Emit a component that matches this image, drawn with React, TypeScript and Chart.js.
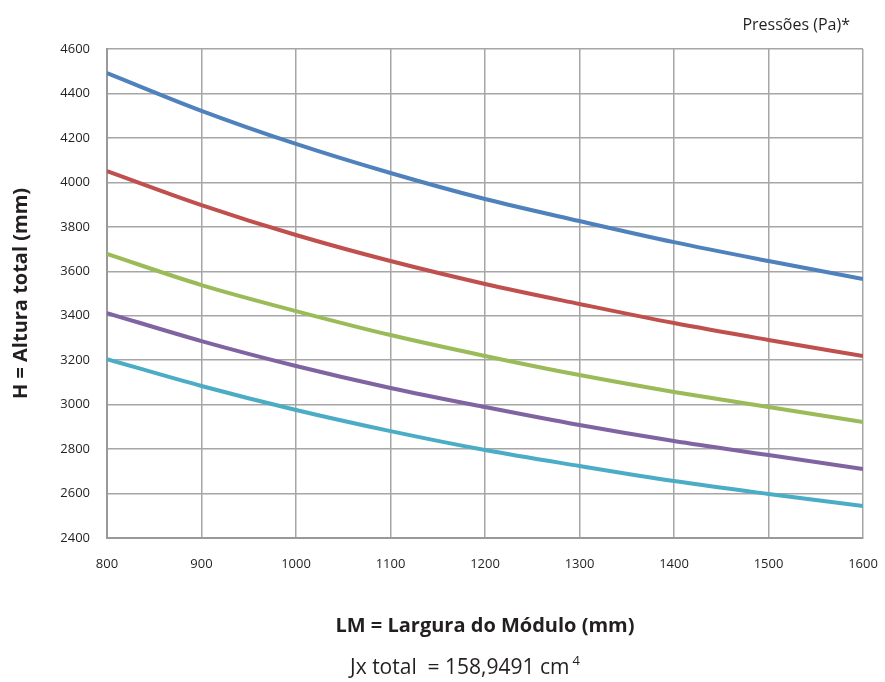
import React, { useEffect, useRef } from "react";
import { Chart, registerables } from "chart.js";

Chart.register(...registerables);

const widths = [800, 900, 1000, 1100, 1200, 1300, 1400, 1500, 1600];
const serieBlue = [4492, 4322, 4173, 4042, 3925, 3826, 3731, 3646, 3565];
const serieRed = [4051, 3898, 3763, 3646, 3543, 3453, 3367, 3291, 3219];
const serieGreen = [3678, 3538, 3421, 3313, 3219, 3133, 3057, 2989, 2922];
const seriePurple = [3412, 3286, 3174, 3075, 2989, 2908, 2836, 2773, 2710];
const serieCyan = [3205, 3084, 2976, 2881, 2796, 2724, 2656, 2598, 2544];
const seriesColors = ["#4F81BD", "#C0504D", "#9BBB59", "#8064A2", "#4BACC6"];

const xTitle = "LM = Largura do Módulo (mm)";
const yTitle = "H = Altura total (mm)";
const topNote = "Pressões (Pa)*";
const bottomNote = "Jx total  = 158,9491 cm";
const bottomSup = "4";

const FONT = "'Open Sans', sans-serif";

export default function App() {
  const ref = useRef<HTMLCanvasElement>(null);
  useEffect(() => {
    const all = [serieBlue, serieRed, serieGreen, seriePurple, serieCyan];
    const notes = {
      id: "notes",
      afterDraw(chart: any) {
        const ctx = chart.ctx;
        const a = chart.chartArea;
        ctx.save();
        ctx.fillStyle = "#231f20";
        ctx.textBaseline = "middle";
        ctx.font = `16px ${FONT}`;
        ctx.textAlign = "right";
        ctx.fillText(topNote, a.right - 13, a.top - 24);
        ctx.font = `21px ${FONT}`;
        const w = ctx.measureText(bottomNote).width;
        ctx.font = `13px ${FONT}`;
        const ws = ctx.measureText(bottomSup).width;
        const cx = (a.left + a.right) / 2 - 20;
        const start = cx - (w + ws + 3) / 2;
        ctx.textAlign = "left";
        ctx.font = `21px ${FONT}`;
        ctx.fillText(bottomNote, start, a.bottom + 130);
        ctx.font = `13px ${FONT}`;
        ctx.fillText(bottomSup, start + w + 3, a.bottom + 123);
        ctx.restore();
      },
    };
    const chart = new Chart(ref.current!, {
      type: "line",
      data: {
        datasets: all.map((s, i) => ({
          label: "S" + i,
          data: widths.map((x, j) => ({ x, y: s[j] })),
          borderColor: seriesColors[i],
          backgroundColor: seriesColors[i],
          borderWidth: 4,
          pointRadius: 0,
          tension: 0.4,
          cubicInterpolationMode: "monotone" as const,
          fill: false,
        })),
      },
      options: {
        responsive: false,
        animation: false,
        layout: { padding: { left: 0, top: 49, right: 22, bottom: 0 } },
        plugins: { legend: { display: false }, tooltip: { enabled: false } },
        scales: {
          x: {
            type: "linear",
            min: 800,
            max: 1600,
            ticks: {
              stepSize: 100,
              color: "#231f20",
              font: { family: FONT, size: 13 },
              padding: 18,
              callback: (v: any) => String(v),
            },
            grid: { color: "#a6a6a6", lineWidth: 1.5, drawTicks: false },
            border: { color: "#999999", width: 2 },
            title: {
              display: true,
              text: xTitle,
              color: "#231f20",
              font: { family: FONT, size: 20, weight: "bold" },
              padding: { top: 0, bottom: 44 },
            },
            afterFit(scale: any) {
              scale.height = 144;
              scale.paddingRight = 0;
              scale.paddingLeft = 0;
            },
          },
          y: {
            min: 2400,
            max: 4600,
            ticks: {
              stepSize: 200,
              color: "#231f20",
              font: { family: FONT, size: 13 },
              padding: 17,
              callback: (v: any) => String(v),
            },
            grid: { color: "#a6a6a6", lineWidth: 1.5, drawTicks: false },
            border: { color: "#999999", width: 2 },
            title: {
              display: true,
              text: yTitle,
              color: "#231f20",
              font: { family: FONT, size: 20, weight: "bold" },
              padding: { top: 9, bottom: 0 },
            },
            afterFit(scale: any) {
              scale.width = 107;
              scale.paddingTop = 0;
              scale.paddingBottom = 0;
            },
          },
        },
      },
      plugins: [notes],
    });
    return () => chart.destroy();
  }, []);
  return (
    <div style={{ position: "absolute", left: 0, top: 0, width: 885, height: 682, background: "#fff" }}>
      <canvas ref={ref} width={885} height={682} />
    </div>
  );
}
